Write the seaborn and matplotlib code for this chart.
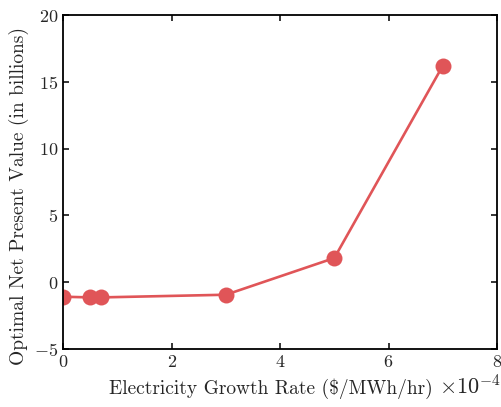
import matplotlib
matplotlib.use("Agg")
import matplotlib.pyplot as plt
import seaborn as sns
import pandas as pd

# Electricity growth rate ($/MWh/hr) and optimal NPV (billions)
growth_rate = [0.0, 0.5e-4, 0.7e-4, 3.0e-4, 5.0e-4, 7.0e-4]
npv_billions = [-1.1, -1.15, -1.15, -0.95, 1.8, 16.2]

x_ticks = [0, 2e-4, 4e-4, 6e-4, 8e-4]
y_ticks = [-5, 0, 5, 10, 15, 20]

sns.set_theme(style="ticks")
plt.rcParams.update({
    "font.family": ["cmr10", "DejaVu Serif"],
    "mathtext.fontset": "cm",
    "axes.formatter.use_mathtext": True,
    "axes.unicode_minus": False,
    "xtick.direction": "in",
    "ytick.direction": "in",
    "xtick.top": True,
    "ytick.right": True,
    "axes.linewidth": 1.3,
    "xtick.major.width": 1.3,
    "ytick.major.width": 1.3,
    "xtick.major.size": 4,
    "ytick.major.size": 4,
    "xtick.labelsize": 13,
    "ytick.labelsize": 13,
    "axes.labelsize": 14,
})

df = pd.DataFrame({"rate": growth_rate, "npv": npv_billions})

fig, ax = plt.subplots(figsize=(5.02, 4.07), dpi=100)
sns.lineplot(data=df, x="rate", y="npv", ax=ax, color="#e05558",
             linewidth=1.9, marker="o", markersize=11.5,
             markeredgewidth=0, sort=False)

ax.set_xlim(0, 8e-4)
ax.set_ylim(-5, 20)
ax.set_xticks(x_ticks)
ax.set_yticks(y_ticks)
ax.ticklabel_format(axis="x", style="sci", scilimits=(0, 0), useMathText=True)
offset = ax.xaxis.get_offset_text()
offset.set_fontsize(16)
offset.set_x(1.008)
ax.set_xlabel("Electricity Growth Rate (\\$/MWh/hr)")
ax.set_ylabel("Optimal Net Present Value (in billions)")
ax.xaxis.set_label_coords(0.478, -0.09)
ax.yaxis.set_label_coords(-0.078, 0.458)
for s in ax.spines.values():
    s.set_color("black")

fig.subplots_adjust(left=0.126, right=0.99, top=0.963, bottom=0.143)
fig.savefig("out.png", dpi=100)
